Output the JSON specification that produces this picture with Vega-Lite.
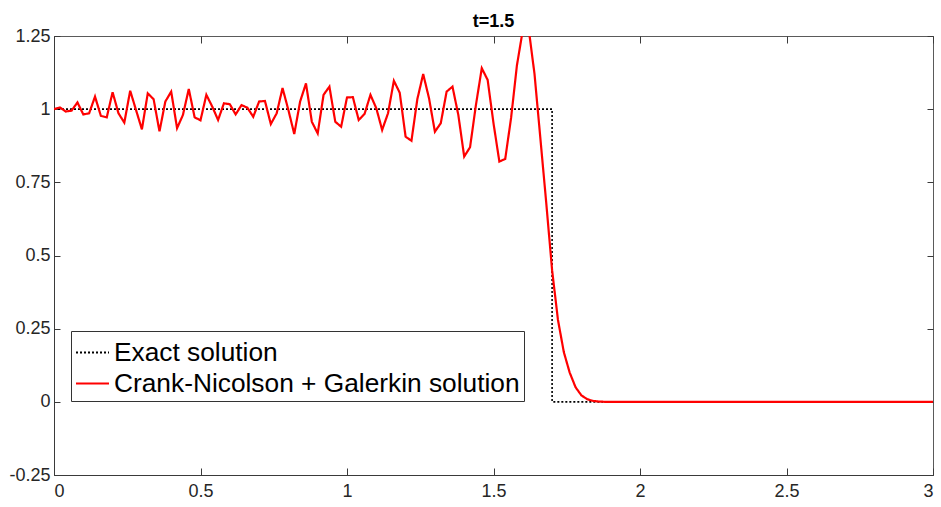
{
  "$schema": "https://vega.github.io/schema/vega-lite/v6.json",
  "autosize": "none",
  "width": 879,
  "height": 439,
  "padding": {"left": 54, "top": 36, "right": 8, "bottom": 32},
  "background": "white",
  "config": {
    "font": "Liberation Sans",
    "view": {"stroke": "#5a5a5a", "strokeWidth": 1},
    "axis": {
      "grid": false,
      "domainColor": "#3a3a3a",
      "tickColor": "#3a3a3a",
      "labelColor": "#262626",
      "labelFont": "Liberation Sans",
      "labelFontSize": 18,
      "title": null
    }
  },
  "title": {
    "text": "t=1.5",
    "fontSize": 18,
    "fontWeight": "bold",
    "font": "Liberation Sans",
    "color": "#000000",
    "offset": -4
  },
  "resolve": {"axis": {"x": "independent", "y": "independent"}},
  "layer": [
    {
      "data": {
        "values": [
          {"x": 0, "y": 1, "o": 1, "s": "Exact solution"},
          {"x": 1.7, "y": 1, "o": 2, "s": "Exact solution"},
          {"x": 1.7, "y": 0, "o": 3, "s": "Exact solution"},
          {"x": 3, "y": 0, "o": 4, "s": "Exact solution"}
        ]
      },
      "mark": {"type": "line", "strokeWidth": 1.6, "clip": true},
      "encoding": {
        "x": {"field": "x", "type": "quantitative", "scale": {"domain": [0, 3], "nice": false, "zero": false},
              "axis": {"orient": "bottom", "values": [0, 0.5, 1, 1.5, 2, 2.5, 3], "labelExpr": "'' + datum.value", "tickSize": -7, "labelPadding": 14, "domain": true}},
        "y": {"field": "y", "type": "quantitative", "scale": {"domain": [-0.25, 1.25], "nice": false, "zero": false},
              "axis": {"orient": "left", "values": [-0.25, 0, 0.25, 0.5, 0.75, 1, 1.25], "labelExpr": "'' + datum.value", "tickSize": -6, "labelPadding": 10, "domain": true}},
        "order": {"field": "o"},
        "color": {"field": "s", "type": "nominal",
                  "scale": {"domain": ["Exact solution", "Crank-Nicolson + Galerkin solution"], "range": ["#000000", "#ff0000"]},
                  "legend": {"orient": "none", "legendX": 17, "legendY": 295, "title": null, "labelFontSize": 26.3, "labelFont": "Liberation Sans", "labelColor": "#000000", "symbolType": "stroke", "symbolSize": 1089, "symbolStrokeWidth": 2, "strokeColor": "#333333", "fillColor": "#ffffff", "padding": 4, "rowPadding": 0, "labelOffset": 4, "labelLimit": 700}},
        "strokeDash": {"field": "s", "type": "nominal",
                       "scale": {"domain": ["Exact solution", "Crank-Nicolson + Galerkin solution"], "range": [[2, 2], [1, 0]]},
                       "legend": {"orient": "none", "legendX": 17, "legendY": 295, "title": null, "labelFontSize": 26.3, "labelFont": "Liberation Sans", "labelColor": "#000000", "symbolType": "stroke", "symbolSize": 1089, "symbolStrokeWidth": 2, "strokeColor": "#333333", "fillColor": "#ffffff", "padding": 4, "rowPadding": 0, "labelOffset": 4, "labelLimit": 700}}
      }
    },
    {
      "data": {
        "values": [
          {"x": 0.00, "y": 1.000}, {"x": 0.02, "y": 1.006}, {"x": 0.04, "y": 0.992}, {"x": 0.06, "y": 0.995},
          {"x": 0.08, "y": 1.023}, {"x": 0.10, "y": 0.982}, {"x": 0.12, "y": 0.986}, {"x": 0.14, "y": 1.043},
          {"x": 0.16, "y": 0.977}, {"x": 0.18, "y": 0.972}, {"x": 0.20, "y": 1.058}, {"x": 0.22, "y": 0.986},
          {"x": 0.24, "y": 0.954}, {"x": 0.26, "y": 1.063}, {"x": 0.28, "y": 0.997}, {"x": 0.30, "y": 0.931},
          {"x": 0.32, "y": 1.054}, {"x": 0.34, "y": 1.034}, {"x": 0.36, "y": 0.924}, {"x": 0.38, "y": 1.026},
          {"x": 0.40, "y": 1.060}, {"x": 0.42, "y": 0.935}, {"x": 0.44, "y": 0.980}, {"x": 0.46, "y": 1.069},
          {"x": 0.48, "y": 0.972}, {"x": 0.50, "y": 0.962}, {"x": 0.52, "y": 1.049}, {"x": 0.54, "y": 1.009},
          {"x": 0.56, "y": 0.963}, {"x": 0.58, "y": 1.020}, {"x": 0.60, "y": 1.017}, {"x": 0.62, "y": 0.982},
          {"x": 0.64, "y": 1.014}, {"x": 0.66, "y": 1.005}, {"x": 0.68, "y": 0.974}, {"x": 0.70, "y": 1.026},
          {"x": 0.72, "y": 1.028}, {"x": 0.74, "y": 0.949}, {"x": 0.76, "y": 0.986}, {"x": 0.78, "y": 1.072},
          {"x": 0.80, "y": 0.997}, {"x": 0.82, "y": 0.915}, {"x": 0.84, "y": 1.026}, {"x": 0.86, "y": 1.088},
          {"x": 0.88, "y": 0.957}, {"x": 0.90, "y": 0.917}, {"x": 0.92, "y": 1.049}, {"x": 0.94, "y": 1.077},
          {"x": 0.96, "y": 0.957}, {"x": 0.98, "y": 0.940}, {"x": 1.00, "y": 1.040}, {"x": 1.02, "y": 1.041},
          {"x": 1.04, "y": 0.963}, {"x": 1.06, "y": 0.984}, {"x": 1.08, "y": 1.049}, {"x": 1.10, "y": 1.003},
          {"x": 1.12, "y": 0.929}, {"x": 1.14, "y": 0.986}, {"x": 1.16, "y": 1.097}, {"x": 1.18, "y": 1.056},
          {"x": 1.20, "y": 0.906}, {"x": 1.22, "y": 0.892}, {"x": 1.24, "y": 1.034}, {"x": 1.26, "y": 1.120},
          {"x": 1.28, "y": 1.037}, {"x": 1.30, "y": 0.923}, {"x": 1.32, "y": 0.952}, {"x": 1.34, "y": 1.060},
          {"x": 1.36, "y": 1.077}, {"x": 1.38, "y": 0.980}, {"x": 1.40, "y": 0.838}, {"x": 1.42, "y": 0.870},
          {"x": 1.44, "y": 1.014}, {"x": 1.46, "y": 1.140}, {"x": 1.48, "y": 1.100}, {"x": 1.50, "y": 0.952},
          {"x": 1.52, "y": 0.821}, {"x": 1.54, "y": 0.830}, {"x": 1.56, "y": 0.970}, {"x": 1.58, "y": 1.150},
          {"x": 1.60, "y": 1.270}, {"x": 1.62, "y": 1.275}, {"x": 1.64, "y": 1.120}, {"x": 1.66, "y": 0.900},
          {"x": 1.68, "y": 0.680}, {"x": 1.70, "y": 0.450}, {"x": 1.72, "y": 0.280}, {"x": 1.74, "y": 0.170},
          {"x": 1.76, "y": 0.100}, {"x": 1.78, "y": 0.050}, {"x": 1.80, "y": 0.022}, {"x": 1.82, "y": 0.009},
          {"x": 1.84, "y": 0.003}, {"x": 1.86, "y": 0.001}, {"x": 1.88, "y": 0}, {"x": 1.90, "y": 0},
          {"x": 1.92, "y": 0}, {"x": 1.94, "y": 0}, {"x": 1.96, "y": 0}, {"x": 1.98, "y": 0},
          {"x": 2.00, "y": 0}, {"x": 2.02, "y": 0}, {"x": 2.04, "y": 0}, {"x": 2.06, "y": 0},
          {"x": 2.08, "y": 0}, {"x": 2.10, "y": 0}, {"x": 2.12, "y": 0}, {"x": 2.14, "y": 0},
          {"x": 2.16, "y": 0}, {"x": 2.18, "y": 0}, {"x": 2.20, "y": 0}, {"x": 2.22, "y": 0},
          {"x": 2.24, "y": 0}, {"x": 2.26, "y": 0}, {"x": 2.28, "y": 0}, {"x": 2.30, "y": 0},
          {"x": 2.32, "y": 0}, {"x": 2.34, "y": 0}, {"x": 2.36, "y": 0}, {"x": 2.38, "y": 0},
          {"x": 2.40, "y": 0}, {"x": 2.42, "y": 0}, {"x": 2.44, "y": 0}, {"x": 2.46, "y": 0},
          {"x": 2.48, "y": 0}, {"x": 2.50, "y": 0}, {"x": 2.52, "y": 0}, {"x": 2.54, "y": 0},
          {"x": 2.56, "y": 0}, {"x": 2.58, "y": 0}, {"x": 2.60, "y": 0}, {"x": 2.62, "y": 0},
          {"x": 2.64, "y": 0}, {"x": 2.66, "y": 0}, {"x": 2.68, "y": 0}, {"x": 2.70, "y": 0},
          {"x": 2.72, "y": 0}, {"x": 2.74, "y": 0}, {"x": 2.76, "y": 0}, {"x": 2.78, "y": 0},
          {"x": 2.80, "y": 0}, {"x": 2.82, "y": 0}, {"x": 2.84, "y": 0}, {"x": 2.86, "y": 0},
          {"x": 2.88, "y": 0}, {"x": 2.90, "y": 0}, {"x": 2.92, "y": 0}, {"x": 2.94, "y": 0},
          {"x": 2.96, "y": 0}, {"x": 2.98, "y": 0}, {"x": 3.00, "y": 0}
        ]
      },
      "mark": {"type": "line", "strokeWidth": 2.2, "clip": true},
      "encoding": {
        "x": {"field": "x", "type": "quantitative",
              "axis": {"orient": "top", "values": [0, 0.5, 1, 1.5, 2, 2.5, 3], "labels": false, "tickSize": -7, "domain": false}},
        "y": {"field": "y", "type": "quantitative",
              "axis": {"orient": "right", "values": [-0.25, 0, 0.25, 0.5, 0.75, 1, 1.25], "labels": false, "tickSize": -6, "domain": false}},
        "color": {"datum": "Crank-Nicolson + Galerkin solution"},
        "strokeDash": {"datum": "Crank-Nicolson + Galerkin solution"}
      }
    }
  ]
}
